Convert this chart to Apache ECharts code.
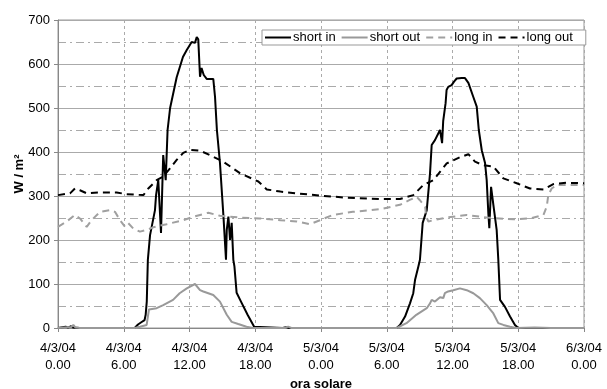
<!DOCTYPE html>
<html><head><meta charset="utf-8">
<script src="https://cdn.jsdelivr.net/npm/echarts@6/dist/echarts.min.js"></script>
<style>html,body{margin:0;padding:0;background:#fff;overflow:hidden}#c{position:absolute;left:0;top:0;width:607px;height:389px}</style>
</head><body><div id="c"></div>
<script>
// x = hours since 4/3/04 0.00
const tickLabels = ['4/3/04\n0.00','4/3/04\n6.00','4/3/04\n12.00','4/3/04\n18.00','5/3/04\n0.00','5/3/04\n6.00','5/3/04\n12.00','5/3/04\n18.00','6/3/04\n0.00'];
const seriesNames = ['short in','short out','long in','long out'];

const shortIn = [[0,0],[0.7,3],[0.9,1],[1.2,4],[1.4,1],[2,0],[6.5,0],[7.0,0],[7.3,8],[7.6,13],[7.9,18],[8.0,30],[8.1,60],[8.2,155],[8.4,211],[8.85,268],[8.95,302],[9.15,336],[9.4,216],[9.6,393],[9.83,336],[10.0,450],[10.23,500],[10.83,570],[11.4,616],[11.75,632],[12.2,650],[12.5,648],[12.66,661],[12.8,656],[12.96,571],[13.1,591],[13.3,575],[13.57,566],[14.17,566],[14.33,525],[14.5,450],[14.78,375],[15.1,253],[15.33,155],[15.4,223],[15.55,253],[15.7,200],[15.85,239],[16.0,155],[16.1,140],[16.3,80],[16.7,60],[17.3,30],[17.9,3],[18,0],[20.5,0],[20.8,2],[21.1,0],[30.6,0],[30.91,0],[31.21,7],[31.67,26],[32.12,56],[32.42,79],[32.58,109],[32.88,139],[33.03,155],[33.28,239],[33.65,268],[33.95,352],[34.1,416],[34.4,427],[34.86,450],[35.05,420],[35.15,470],[35.37,511],[35.46,541],[35.61,548],[35.92,552],[36.14,560],[36.38,567],[36.53,571],[36.84,568],[37.14,568],[37.45,557],[37.9,525],[38.21,503],[38.4,450],[38.67,404],[38.97,375],[39.12,336],[39.27,261],[39.36,227],[39.52,321],[39.73,280],[39.88,276],[40.03,223],[40.18,155],[40.34,64],[40.79,48],[41.25,26],[41.7,7],[42.0,0],[48,0]];
const shortOut = [[0,0],[1.2,2],[1.4,7],[1.6,1],[2,0],[7.0,0],[7.48,3],[8.09,7],[8.3,42],[9.0,45],[9.6,52],[10.5,64],[11.1,79],[11.75,90],[12.5,100],[12.66,100],[12.96,86],[13.26,83],[14.17,75],[14.78,60],[15.4,30],[15.85,14],[16.45,9],[17.2,3],[17.8,0],[20.7,0],[21.0,3],[21.3,0],[30.9,0],[31.8,11],[32.7,30],[33.65,45],[33.95,56],[34.1,64],[34.4,60],[34.86,70],[35.16,68],[35.3,79],[35.6,83],[36.07,86],[36.68,90],[37.3,86],[37.9,79],[38.5,68],[39.12,52],[39.73,33],[40.18,11],[40.64,7],[41.25,3],[41.8,0],[43.5,1],[45,0],[48,0]];
const longIn = [[0,230],[0.79,242],[1.55,257],[2.0,249],[2.62,230],[3.07,245],[3.83,264],[4.75,268],[5.2,264],[5.66,245],[6.11,230],[6.42,238],[6.87,226],[7.48,219],[8.09,223],[8.7,229],[9.92,236],[11.43,245],[12.35,253],[13.72,262],[14.78,255],[16.6,251],[18.4,249],[20.3,245],[21.8,242],[23.0,236],[23.9,245],[25.1,257],[26.9,264],[29.4,270],[31.2,280],[32.1,291],[32.73,298],[33.0,291],[33.5,276],[33.6,253],[33.8,242],[34.25,245],[35.47,251],[37.3,257],[39.12,251],[41.55,247],[43.07,249],[44.3,257],[44.6,276],[44.74,302],[45.05,317],[45.5,325],[48,325]];
const longOut = [[0,302],[1.1,306],[1.55,317],[2.0,313],[2.62,306],[3.83,308],[5.35,308],[6.27,304],[7.79,302],[8.24,317],[9.0,336],[9.6,344],[10.22,363],[10.83,382],[11.43,398],[12.05,405],[12.96,403],[13.87,393],[15.08,378],[16.6,352],[18.28,333],[19.05,315],[20.3,310],[21.8,306],[23.9,301],[26.35,296],[29.4,293],[31.2,293],[32.42,302],[33.34,325],[34.25,336],[35.47,374],[36.68,388],[37.45,395],[38.05,378],[38.8,370],[39.73,367],[40.64,340],[41.86,329],[43.07,317],[44.3,315],[45.2,327],[46.4,330],[48,329]];

const font = 'Liberation Sans, Arial, sans-serif';
const chart = echarts.init(document.getElementById('c'), null, {renderer:'canvas', width:607, height:389});
function mk(name, data, color, type){
  return {name, type:'line', data, symbol:'none', showSymbol:false, animation:false,
    lineStyle:{color, width:2, type}, itemStyle:{color}, z: 3};
}
chart.setOption({
  animation:false,
  backgroundColor:'#fff',
  grid:{left:58, right:23, top:20, bottom:61, show:true, borderColor:'#999', borderWidth:1, containLabel:false, outerBoundsMode:'none'},
  legend:{
    data: seriesNames, top:30, left:262, itemWidth:26, itemHeight:10, itemGap:5,
    backgroundColor:'#fff', borderColor:'#999', borderWidth:1, padding:[1,13,1,2],
    itemStyle:{opacity:0, borderWidth:0},
    textStyle:{fontFamily:font, fontSize:13, color:'#000', padding:[0,0,0,-3]}
  },
  xAxis:{
    type:'value', min:0, max:48, interval:6,
    name:'ora solare', nameLocation:'middle', nameGap:50, nameMoveOverlap:false,
    nameTextStyle:{fontFamily:font, fontSize:13, fontWeight:'bold', color:'#000'},
    axisLine:{show:true, lineStyle:{color:'#888'}},
    axisTick:{show:true, length:4, lineStyle:{color:'#888'}},
    axisLabel:{fontFamily:font, fontSize:13, color:'#000', lineHeight:17, margin:12,
      formatter:(v)=>tickLabels[Math.round(v/6)]},
    splitLine:{show:true, lineStyle:{color:'#aaa', type:[3,3], width:1}}
  },
  yAxis:{
    type:'value', min:0, max:700, interval:100,
    name:'W / m²', nameLocation:'middle', nameGap:32, nameMoveOverlap:false,
    nameTextStyle:{fontFamily:font, fontSize:13, fontWeight:'bold', color:'#000'},
    axisLine:{show:true, lineStyle:{color:'#888'}},
    axisTick:{show:true, length:4, lineStyle:{color:'#888'}},
    axisLabel:{fontFamily:font, fontSize:13, color:'#000', margin:8},
    splitLine:{show:true, lineStyle:{color:'#aaa', width:1}},
    minorTick:{show:false, splitNumber:2},
    minorSplitLine:{show:true, lineStyle:{color:'#aaa', type:[8,4,2,4], width:1}}
  },
  series:[
    mk(seriesNames[0], shortIn, '#000', 'solid'),
    mk(seriesNames[1], shortOut, '#999', 'solid'),
    mk(seriesNames[2], longIn, '#a0a0a0', [7,5]),
    mk(seriesNames[3], longOut, '#000', [7,5])
  ]
});
</script></body></html>
